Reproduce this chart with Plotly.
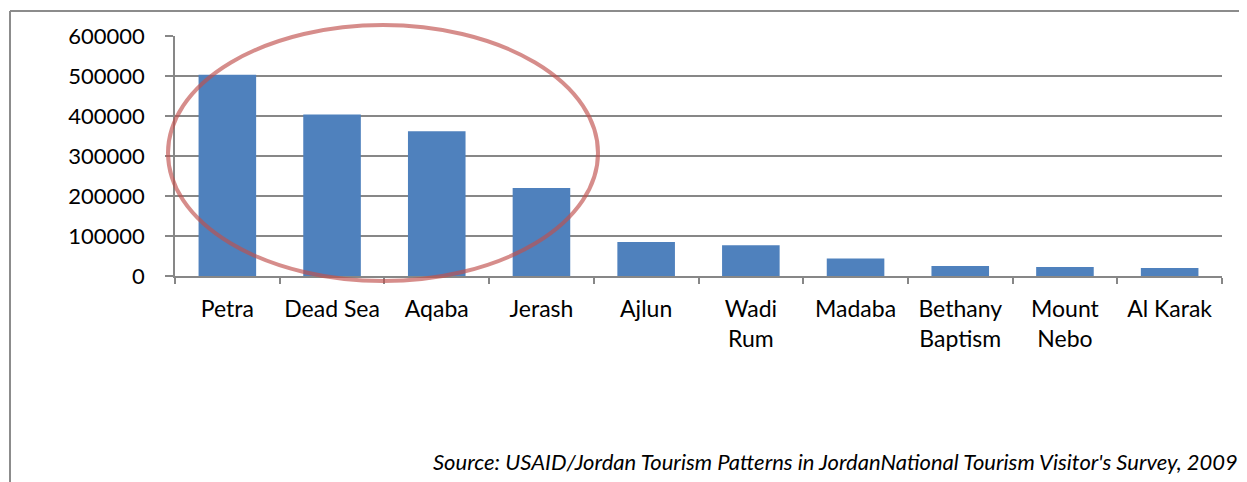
import plotly.graph_objects as go

categories = ["Petra", "Dead Sea", "Aqaba", "Jerash", "Ajlun", "Wadi<br>Rum",
              "Madaba", "Bethany<br>Baptism", "Mount<br>Nebo", "Al Karak"]
visitors = [503000, 404000, 362000, 220000, 85000, 77000, 44000, 25000, 22500, 20000]
y_ticks = [0, 100000, 200000, 300000, 400000, 500000, 600000]
source_text = "Source: USAID/Jordan Tourism Patterns in JordanNational Tourism Visitor's Survey, 2009"

OFF = 8  # page body margin
W, H = 1247 - OFF, 482 - OFF
# plot area in screen pixels: x 175..1222, y 36..276
L, T = 175 - OFF, 36 - OFF
R, B = W - (1222 - OFF), H - (276 - OFF)
pw, ph = W - L - R, H - T - B

def px(x):  # screen x -> paper
    return (x - OFF - L) / pw

def py(y):  # screen y -> paper
    return (H - B - (y - OFF)) / ph

font = "Lato, 'Open Sans', sans-serif"
grid = "#878787"

fig = go.Figure(go.Bar(
    x=categories, y=visitors,
    marker=dict(color="#4F81BD", line=dict(width=0)),
))

fig.update_layout(
    width=W, height=H,
    margin=dict(l=L, r=R, t=T, b=B, autoexpand=False),
    paper_bgcolor="white", plot_bgcolor="white",
    bargap=0.45,
    showlegend=False,
    font=dict(family=font, size=22, color="black"),
    xaxis=dict(
        type="category",
        tickson="boundaries",
        tickangle=0,
        automargin=False,
        ticks="outside", ticklen=6, tickcolor=grid, tickwidth=1.5,
        showline=True, linecolor=grid, linewidth=1.5,
        showgrid=False,
        tickfont=dict(size=23),
        ticklabelstandoff=12,
    ),
    yaxis=dict(
        range=[0, 600000],
        automargin=False,
        tickvals=y_ticks,
        ticktext=[str(v) for v in y_ticks],
        ticks="outside", ticklen=8, tickcolor=grid, tickwidth=1.5,
        showline=True, linecolor=grid, linewidth=1.5,
        showgrid=True, gridcolor=grid, gridwidth=1.5,
        zeroline=False,
        tickfont=dict(size=22),
        ticklabelstandoff=16,
    ),
    shapes=[
        dict(type="line", xref="paper", yref="paper",
             x0=px(10), x1=px(10), y0=py(11), y1=py(500),
             line=dict(color="#8c8c8c", width=2)),
        dict(type="line", xref="paper", yref="paper",
             x0=px(10), x1=px(1260), y0=py(11), y1=py(11),
             line=dict(color="#8c8c8c", width=2)),
        dict(type="circle", xref="paper", yref="paper", layer="above",
             x0=px(168), x1=px(598), y0=py(281), y1=py(25),
             line=dict(color="rgba(192,80,77,0.65)", width=4)),
    ],
    annotations=[
        dict(text="<i>" + source_text + "</i>", xref="paper", yref="paper",
             x=px(1240), y=py(477), xanchor="right", yanchor="bottom",
             showarrow=False, font=dict(size=22, family=font, color="black")),
    ],
)

fig.write_html("out.html")
